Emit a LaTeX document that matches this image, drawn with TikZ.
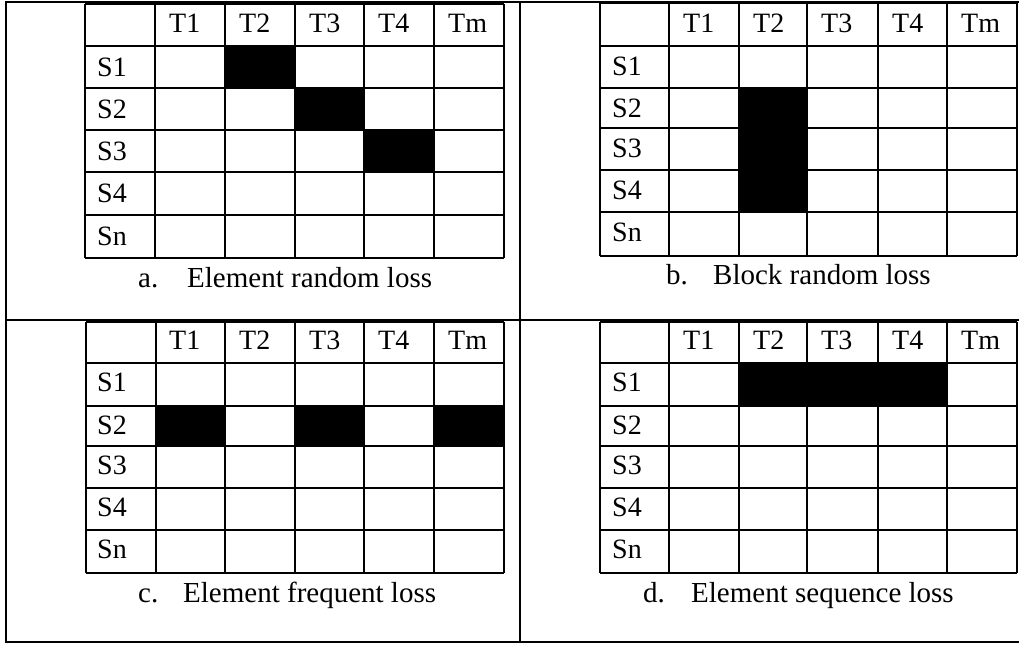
\documentclass[tikz,border=0pt]{standalone}
\usepackage{fontspec}
\setmainfont{Liberation Serif}
\begin{document}
\begin{tikzpicture}[x=1pt,y=-1pt,
  frame/.style={line width=2pt},
  grid/.style={line width=1.8pt},
  lost/.style={fill=black},
  lbl/.style={anchor=base west,inner sep=0pt,font=\fontsize{28}{32}\selectfont},
  captxt/.style={anchor=base west,inner sep=0pt,font=\fontsize{29}{34}\selectfont}]
\useasboundingbox (0,0) rectangle (1019,646);
% outer frame
\coordinate (tl) at (6,2);
\coordinate (tm) at (520,2);
\coordinate (tr) at (1019,2);
\coordinate (ml) at (6,320);
\coordinate (mr) at (1019,320);
\coordinate (bl) at (6,642);
\coordinate (bm) at (520,642);
\coordinate (br) at (1019,642);
\draw[frame] (tr) -- (tl) -- (bl) -- (br);
\draw[frame] (tm) -- (bm);
\draw[frame] (ml) -- (mr);
% ---------- table a ----------
\fill[lost] (225,46) rectangle (295,88);
\fill[lost] (295,88) rectangle (364,130);
\fill[lost] (364,130) rectangle (434,172);
\foreach \x in {85,155,225,295,364,434,504} \draw[grid] (\x,4) -- (\x,258);
\foreach \y in {4,46,88,130,172,215,258} \draw[grid] (85,\y) -- (504,\y);
\foreach \t/\x in {T1/169,T2/239,T3/309,T4/378,Tm/448} \node[lbl] (a\t) at (\x,32) {\t};
\foreach \s/\y in {S1/46,S2/88,S3/130,S4/172,Sn/215} \node[lbl] (a\s) at (97,\y+30) {\s};
\node[captxt] (aL) at (138,287) {a.};
\node[captxt] (aC) at (187,287) {Element random loss};
% ---------- table b ----------
\fill[lost] (739,88) rectangle (807,212);
\foreach \x in {600,669,739,807,878,947,1017} \draw[grid] (\x,3) -- (\x,256);
\foreach \y in {3,46,88,128,170,212,256} \draw[grid] (600,\y) -- (1017,\y);
\foreach \t/\x in {T1/683,T2/753,T3/821,T4/892,Tm/961} \node[lbl] (b\t) at (\x,32) {\t};
\foreach \s/\y in {S1/46,S2/88,S3/128,S4/170,Sn/212} \node[lbl] (b\s) at (612,\y+29) {\s};
\node[captxt] (bL) at (666,284) {b.};
\node[captxt] (bC) at (713,284) {Block random loss};
% ---------- table c ----------
\fill[lost] (155,406) rectangle (225,446);
\fill[lost] (295,406) rectangle (364,446);
\fill[lost] (434,406) rectangle (504,446);
\foreach \x in {86,156,225,295,364,434,504} \draw[grid] (\x,322) -- (\x,573);
\foreach \y in {322,363,406,446,488,530,573} \draw[grid] (86,\y) -- (504,\y);
\foreach \t/\x in {T1/169,T2/239,T3/309,T4/378,Tm/448} \node[lbl] (c\t) at (\x,349) {\t};
\foreach \s/\y in {S1/363,S2/406,S3/446,S4/488,Sn/530} \node[lbl] (c\s) at (97,\y+28) {\s};
\node[captxt] (cL) at (138,602) {c.};
\node[captxt] (cC) at (183,602) {Element frequent loss};
% ---------- table d ----------
\fill[lost] (739,363) rectangle (947,406);
\foreach \x in {600,669,739,807,878,947,1017} \draw[grid] (\x,322) -- (\x,573);
\foreach \y in {322,363,406,446,488,530,573} \draw[grid] (600,\y) -- (1017,\y);
\foreach \t/\x in {T1/683,T2/753,T3/821,T4/892,Tm/961} \node[lbl] (d\t) at (\x,349) {\t};
\foreach \s/\y in {S1/363,S2/406,S3/446,S4/488,Sn/530} \node[lbl] (d\s) at (612,\y+28) {\s};
\node[captxt] (dL) at (643,602) {d.};
\node[captxt] (dC) at (691,602) {Element sequence loss};
\end{tikzpicture}
\end{document}
